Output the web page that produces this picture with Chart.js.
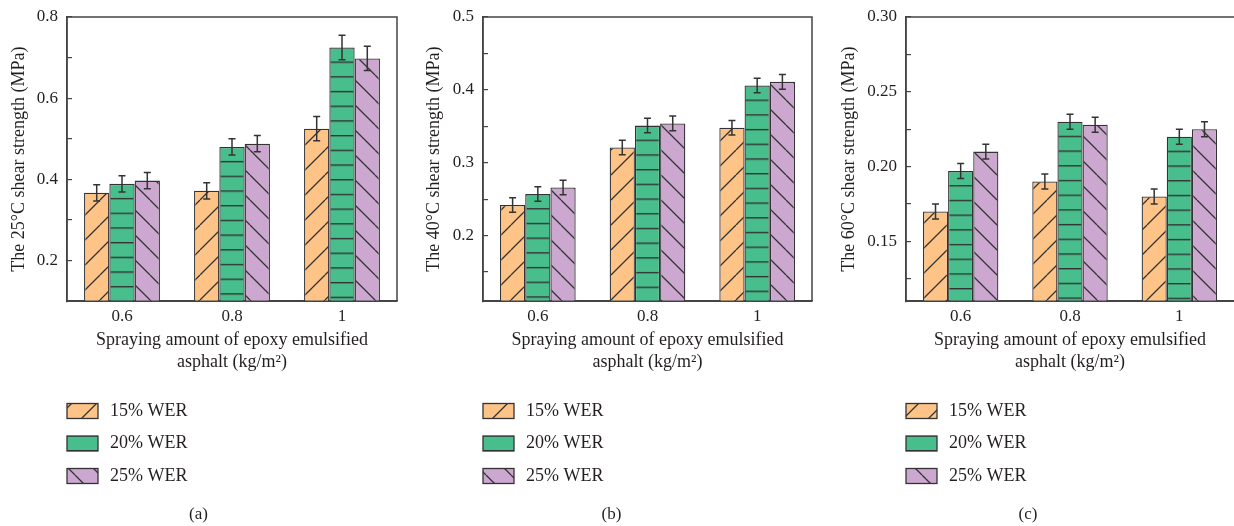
<!DOCTYPE html>
<html>
<head>
<meta charset="utf-8">
<script src="https://cdn.jsdelivr.net/npm/chart.js@4.4.1/dist/chart.umd.min.js"></script>
<style>
  html, body { margin: 0; padding: 0; background: #fff; }
  #wrap { position: relative; width: 1234px; height: 526px; overflow: hidden; }
  .panel { position: absolute; top: 0; height: 526px; }
</style>
</head>
<body>
<div id="wrap">
  <div class="panel" style="left:0;width:411px"><canvas id="chartA"></canvas></div>
  <div class="panel" style="left:411px;width:411px"><canvas id="chartB"></canvas></div>
  <div class="panel" style="left:822px;width:412px"><canvas id="chartC"></canvas></div>
</div>
<script>
// Shared categories / series
const categories = ['0.6', '0.8', '1'];
const seriesNames = ['15% WER', '20% WER', '25% WER'];

// (a) 25°C
const a15 = [0.367, 0.372, 0.525];
const a20 = [0.389, 0.480, 0.725];
const a25 = [0.397, 0.488, 0.698];
const aErr15 = [0.02, 0.02, 0.03];
const aErr20 = [0.02, 0.02, 0.03];
const aErr25 = [0.02, 0.02, 0.03];
const aTicks = [0.2, 0.3, 0.4, 0.5, 0.6, 0.7, 0.8];
const aTickLabels = ['0.2', '', '0.4', '', '0.6', '', '0.8'];

// (b) 40°C
const b15 = [0.242, 0.321, 0.348];
const b20 = [0.257, 0.351, 0.406];
const b25 = [0.266, 0.354, 0.411];
const bErr15 = [0.01, 0.01, 0.01];
const bErr20 = [0.01, 0.01, 0.01];
const bErr25 = [0.01, 0.01, 0.01];
const bTicks = [0.15, 0.2, 0.25, 0.3, 0.35, 0.4, 0.45, 0.5];
const bTickLabels = ['', '0.2', '', '0.3', '', '0.4', '', '0.5'];

// (c) 60°C
const c15 = [0.170, 0.190, 0.180];
const c20 = [0.197, 0.230, 0.220];
const c25 = [0.210, 0.228, 0.225];
const cErr15 = [0.005, 0.005, 0.005];
const cErr20 = [0.005, 0.005, 0.005];
const cErr25 = [0.005, 0.005, 0.005];
const cTicks = [0.125, 0.15, 0.175, 0.2, 0.225, 0.25, 0.275, 0.3];
const cTickLabels = ['', '0.15', '', '0.20', '', '0.25', '', '0.30'];

const textCol = '#231f20';
const edgeCol = '#333333';
const axisCol = '#444444';
const fills = ['#fec487', '#48be8c', '#cca8d0'];
const kinds = ['/', '-', '\\'];
const serif = '"Liberation Serif", "Times New Roman", serif';
const fontTick = { family: serif, size: 17 };
const fontTitle = { family: serif, size: 18, lineHeight: 1.222 };

// hatch tiles
function makeTile(kind, color) {
  const s = kind === '-' ? 15 : 25;
  const c = document.createElement('canvas');
  c.width = s; c.height = s;
  const g = c.getContext('2d');
  g.fillStyle = color;
  g.fillRect(0, 0, s, s);
  g.fillStyle = edgeCol;
  g.strokeStyle = edgeCol;
  g.lineWidth = 1.3;
  if (kind === '-') {
    g.fillRect(0, 0, s, 1.4);
  } else {
    g.beginPath();
    for (let o = -s; o <= s; o += s) {
      if (kind === '/') { g.moveTo(o, s); g.lineTo(o + s, 0); }
      else { g.moveTo(o, 0); g.lineTo(o + s, s); }
    }
    g.stroke();
  }
  return c;
}
const tiles = kinds.map((k, i) => makeTile(k, fills[i]));
const hSpace = 14.7;

function barFill(i) {
  return function (ctx) {
    const chart = ctx.chart;
    const p = chart.ctx.createPattern(tiles[i], 'repeat');
    if (kinds[i] === '-' && ctx.type === 'data' && chart.chartArea) {
      const top = chart.scales.y.getPixelForValue(ctx.raw);
      p.setTransform(new DOMMatrix().translate(0, top - 0.7).scale(1, hSpace / 15));
    }
    return p;
  };
}

// error bars
const errorBars = {
  id: 'errorBars',
  afterDatasetsDraw(chart) {
    const ctx = chart.ctx;
    const y = chart.scales.y;
    ctx.save();
    ctx.strokeStyle = edgeCol;
    ctx.lineWidth = 1.5;
    chart.data.datasets.forEach((ds, di) => {
      chart.getDatasetMeta(di).data.forEach((bar, i) => {
        const v = ds.data[i], e = ds.errors[i];
        const y1 = y.getPixelForValue(v + e), y2 = y.getPixelForValue(v - e);
        ctx.beginPath();
        ctx.moveTo(bar.x, y1); ctx.lineTo(bar.x, y2);
        ctx.moveTo(bar.x - 3.5, y1); ctx.lineTo(bar.x + 3.5, y1);
        ctx.moveTo(bar.x - 3.5, y2); ctx.lineTo(bar.x + 3.5, y2);
        ctx.stroke();
      });
    });
    ctx.restore();
  }
};

// frame around the plot + legend under the axis title
const frameAndLegend = {
  id: 'frameAndLegend',
  afterDatasetsDraw(chart, args, opts) {
    const { left, right, top, bottom } = chart.chartArea;
    const ctx = chart.ctx;
    const r = right + (opts.openRight ? 2 : 0);
    ctx.save();
    ctx.strokeStyle = axisCol;
    ctx.lineWidth = 1.5;
    ctx.beginPath();
    ctx.moveTo(left, top); ctx.lineTo(r, top);
    if (!opts.openRight) ctx.lineTo(right, bottom);
    ctx.moveTo(left, top); ctx.lineTo(left, bottom); ctx.lineTo(r, bottom);
    ctx.stroke();
    ctx.restore();
  },
  afterDraw(chart) {
    const ctx = chart.ctx;
    const left = chart.chartArea.left;
    ctx.save();
    chart.data.datasets.forEach((ds, i) => {
      const cy = 411 + i * 32.5;
      ctx.fillStyle = ctx.createPattern(tiles[i], 'repeat');
      ctx.fillRect(left, cy - 7.5, 31, 15);
      ctx.strokeStyle = edgeCol;
      ctx.lineWidth = 1.3;
      ctx.strokeRect(left, cy - 7.5, 31, 15);
      ctx.fillStyle = textCol;
      ctx.font = '18px ' + serif;
      ctx.textBaseline = 'middle';
      ctx.textAlign = 'left';
      ctx.fillText(ds.label, left + 43, cy);
    });
    ctx.restore();
  }
};

function buildPanel(id, cfg) {
  return new Chart(document.getElementById(id), {
    type: 'bar',
    data: {
      labels: categories,
      datasets: cfg.series.map((vals, i) => ({
        label: seriesNames[i],
        data: vals,
        errors: cfg.errors[i],
        backgroundColor: barFill(i),
        borderColor: edgeCol,
        borderWidth: 1.3,
        borderSkipped: false,
        barPercentage: 1,
        categoryPercentage: 0.69
      }))
    },
    options: {
      responsive: true,
      maintainAspectRatio: false,
      animation: false,
      layout: { padding: { top: 17, right: cfg.padRight, left: 0, bottom: 0 } },
      plugins: {
        legend: { display: false },
        tooltip: { enabled: false },
        title: {
          display: true, position: 'bottom', text: cfg.tag,
          font: { ...fontTick, weight: 'normal' }, color: textCol,
          padding: { top: 131, bottom: 1 }
        },
        frameAndLegend: { openRight: cfg.openRight }
      },
      scales: {
        x: {
          grid: { display: false, drawTicks: false },
          border: { color: axisCol, width: 1.5 },
          ticks: { font: fontTick, color: textCol, padding: 5 },
          title: {
            display: true, text: ['Spraying amount of epoxy emulsified', 'asphalt (kg/m²)'],
            font: fontTitle, color: textCol, padding: { top: -2, bottom: 0 }
          }
        },
        y: {
          min: cfg.min, max: cfg.max,
          afterBuildTicks: s => { s.ticks = cfg.ticks.map(v => ({ value: v })); },
          afterFit: s => { s.width = cfg.yWidth; s.paddingTop = 0; s.paddingBottom = 0; },
          grid: { drawOnChartArea: false, drawTicks: true, tickLength: -5, color: axisCol, lineWidth: 1.2 },
          border: { color: axisCol, width: 1.5 },
          ticks: { font: fontTick, color: textCol, padding: 14, callback: (v, i) => cfg.tickLabels[i] },
          title: {
            display: true, text: cfg.yTitle, font: { family: serif, size: 18 }, color: textCol,
            padding: { top: cfg.yTitlePad, bottom: 0 }
          }
        }
      }
    },
    plugins: [errorBars, frameAndLegend]
  });
}

buildPanel('chartA', {
  series: [a15, a20, a25], errors: [aErr15, aErr20, aErr25],
  min: 0.1, max: 0.8, ticks: aTicks, tickLabels: aTickLabels,
  yTitle: 'The 25°C shear strength (MPa)', tag: '(a)',
  yWidth: 67, padRight: 14, yTitlePad: 8, openRight: false
});
buildPanel('chartB', {
  series: [b15, b20, b25], errors: [bErr15, bErr20, bErr25],
  min: 0.11, max: 0.5, ticks: bTicks, tickLabels: bTickLabels,
  yTitle: 'The 40°C shear strength (MPa)', tag: '(b)',
  yWidth: 72, padRight: 10, yTitlePad: 12, openRight: false
});
buildPanel('chartC', {
  series: [c15, c20, c25], errors: [cErr15, cErr20, cErr25],
  min: 0.11, max: 0.3, ticks: cTicks, tickLabels: cTickLabels,
  yTitle: 'The 60°C shear strength (MPa)', tag: '(c)',
  yWidth: 84, padRight: 0, yTitlePad: 16, openRight: true
});
</script>
</body>
</html>
